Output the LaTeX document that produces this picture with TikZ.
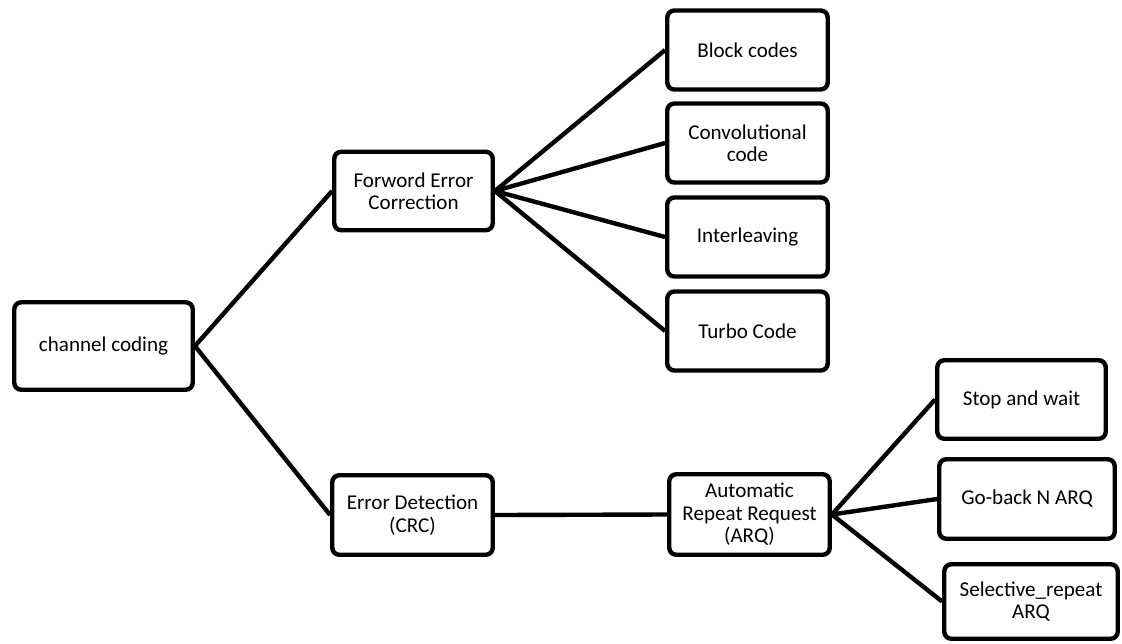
\documentclass[tikz,border=0pt]{standalone}
\usepackage{fontspec}
\setmainfont{Carlito}
\begin{document}
\begin{tikzpicture}[x=0.02cm,y=-0.02cm,
  box/.style={draw,line width=2.5pt,rounded corners=4pt,align=center,inner sep=0pt,
    font=\fontsize{12}{12.8}\selectfont},
  leaf/.style={box,minimum width=3.21cm,minimum height=1.58cm},
  link/.style={line width=2.5pt}]
\useasboundingbox (0,0) rectangle (1122,643);
% root and the two branches
\node[box,minimum width=3.57cm,minimum height=1.75cm] (cc) at (103.5,346) {channel coding};
\node[box,minimum width=3.17cm,minimum height=1.57cm] (fec) at (413.5,191) {Forword Error\\Correction};
\node[box,minimum width=3.21cm,minimum height=1.59cm] (ed) at (412.5,515) {Error Detection\\(CRC)};
% forward error correction methods
\node[leaf] (block) at (747.5,50) {Block codes};
\node[leaf] (conv) at (747.5,143) {Convolutional\\code};
\node[leaf] (inter) at (747.5,237) {Interleaving};
\node[leaf] (turbo) at (747.5,331) {Turbo Code};
% ARQ and its variants
\node[box,minimum width=3.21cm,minimum height=1.61cm] (arq) at (749.5,514.5) {Automatic\\Repeat Request\\(ARQ)};
\node[box,minimum width=3.37cm,minimum height=1.57cm] (stop) at (1021.5,399.5) {Stop and wait};
\node[box,minimum width=3.51cm,minimum height=1.59cm] (goback) at (1027,499) {Go-back N ARQ};
\node[box,minimum width=3.47cm,minimum height=1.49cm] (selrep) at (1031,601.5) {Selective\_repeat\\ARQ};
\draw[link] (cc.east) -- (fec.west);
\draw[link] (cc.east) -- (ed.west);
\foreach \n in {block,conv,inter,turbo}
  \draw[link] (fec.east) -- (\n.west);
\draw[link] (ed.east) -- (arq.west);
\foreach \n in {stop,goback,selrep}
  \draw[link] (arq.east) -- (\n.west);
\end{tikzpicture}
\end{document}
